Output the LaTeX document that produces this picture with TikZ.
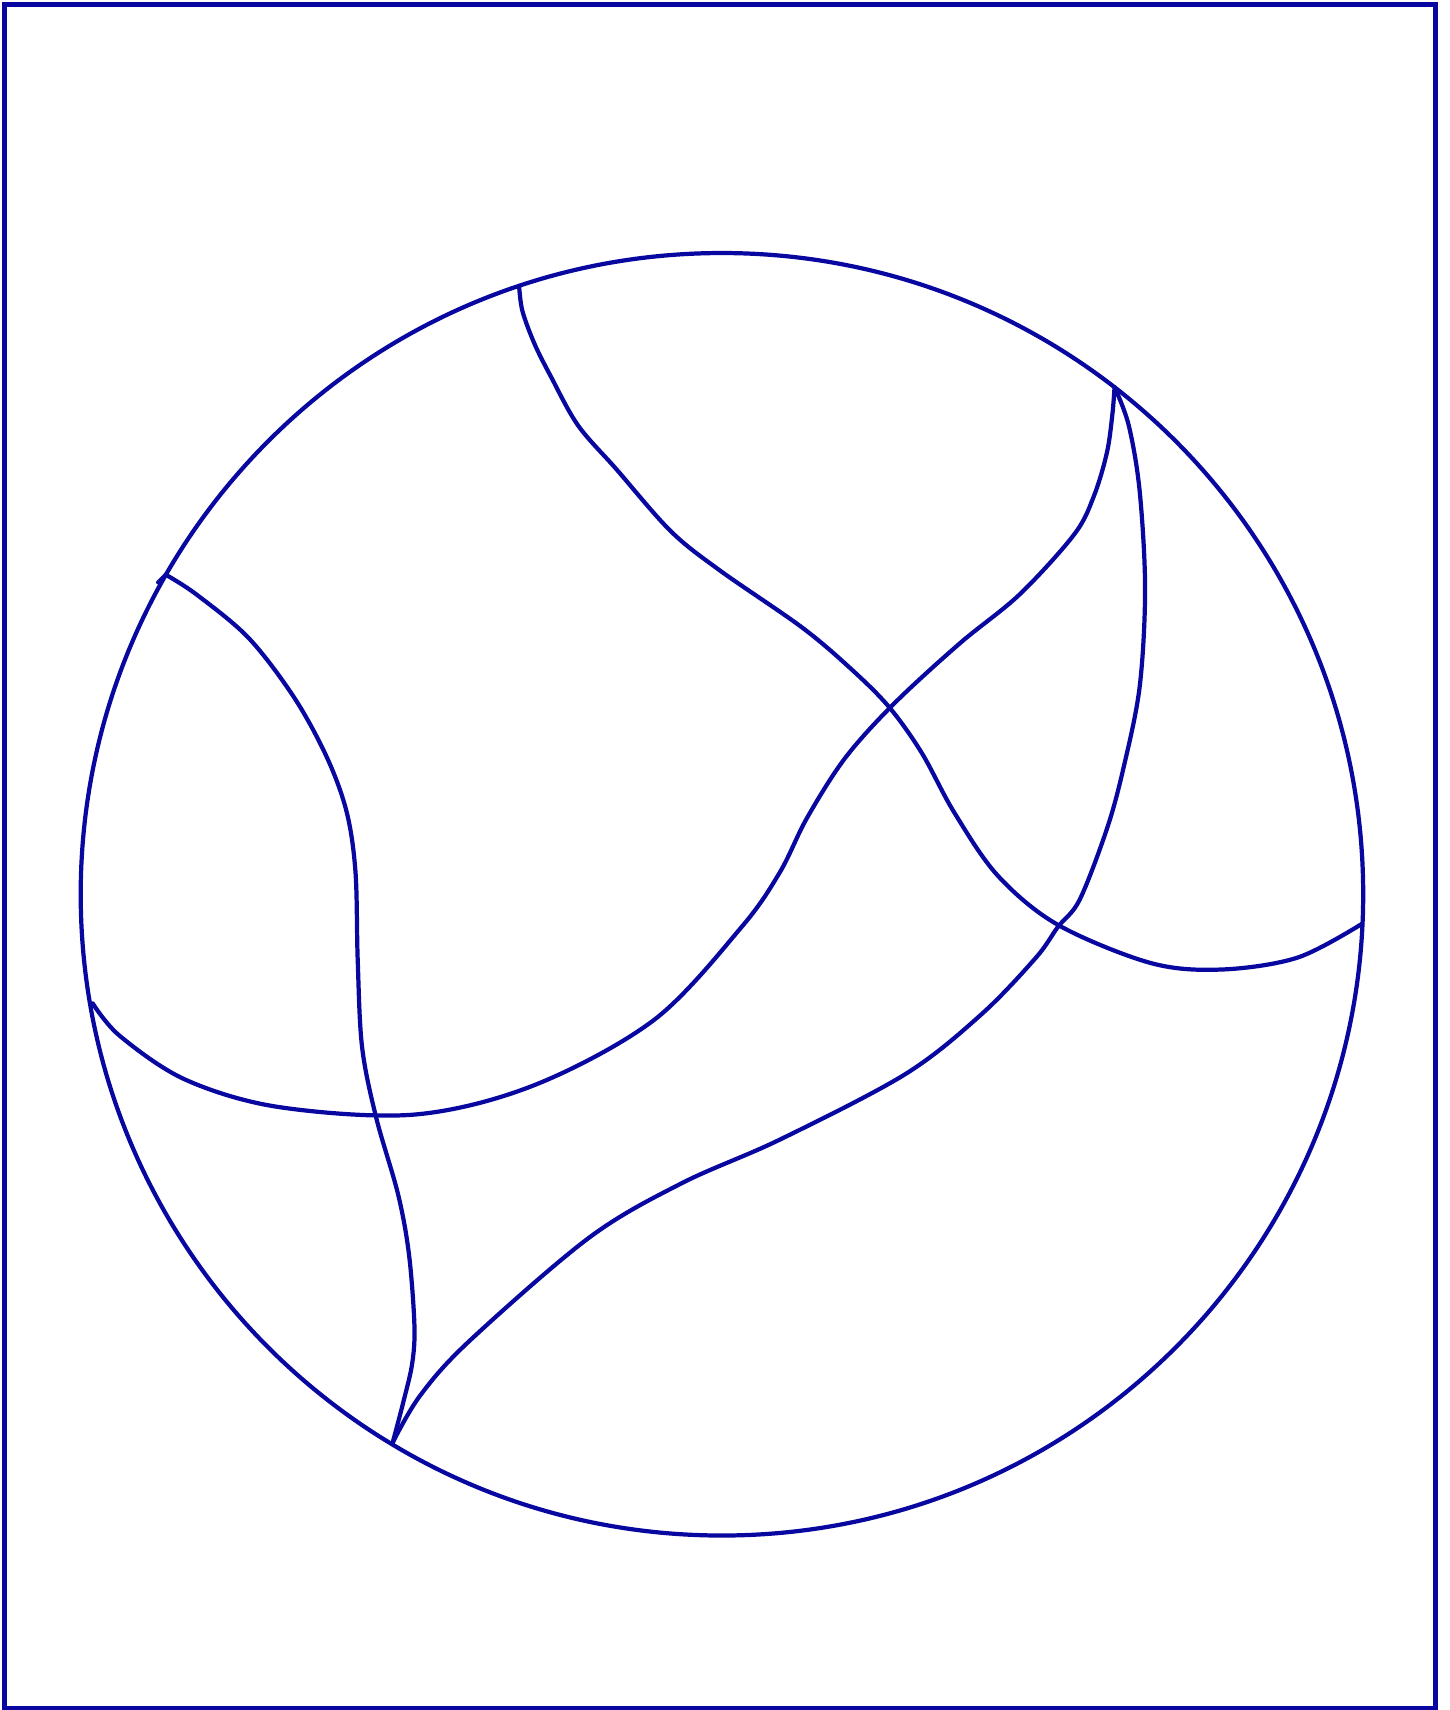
\documentclass[tikz,border=0pt]{standalone}
\definecolor{ink}{RGB}{8,8,160}
\begin{document}
\begin{tikzpicture}[x=0.01cm,y=-0.01cm,
  seam/.style={draw=ink,line width=1.1pt,line cap=round,line join=round},
  frame/.style={draw=ink,line width=1.4pt}]
\useasboundingbox (0,0) rectangle (1329,1568);
\draw[frame] (4.2,4.2) rectangle (1316.5,1566.5);
\draw[seam] (662,820) circle (588);
% seam 1: top to right
\draw[seam] plot[smooth,tension=0.55] coordinates {(476,262) (479,285) (490,315) (505,345) (530,390) (565,430) (615,487) (660,523) (735,575) (780,613) (815,648) (845,690) (875,745) (915,803) (970,848) (1055,883) (1120,889) (1190,878) (1249,847)};
% seam 2: top-right to left
\draw[seam] plot[smooth,tension=0.55] coordinates {(1022,355) (1020,380) (1015,415) (1003,455) (985,490) (935,545) (880,590) (820,645) (775,695) (740,750) (715,800) (680,850) (600,935) (490,995) (380,1022) (255,1015) (170,990) (110,950) (85,920)};
% seam 3: top-right to bottom
\draw[seam] plot[smooth,tension=0.55] coordinates {(1022,355) (1035,390) (1045,450) (1050,540) (1045,630) (1030,705) (1015,760) (990,825) (970,850) (950,878) (900,930) (830,985) (715,1045) (625,1085) (540,1135) (430,1230) (385,1280) (360,1323)};
% seam 4: left to bottom
\draw[seam] plot[smooth,tension=0.55] coordinates {(152,527) (180,545) (228,585) (270,640) (300,695) (318,745) (326,800) (328,880) (332,960) (345,1025) (365,1095) (375,1150) (380,1215) (378,1250) (370,1285) (360,1323)};
\draw[seam] (152,527) -- (145,534);
\end{tikzpicture}
\end{document}
